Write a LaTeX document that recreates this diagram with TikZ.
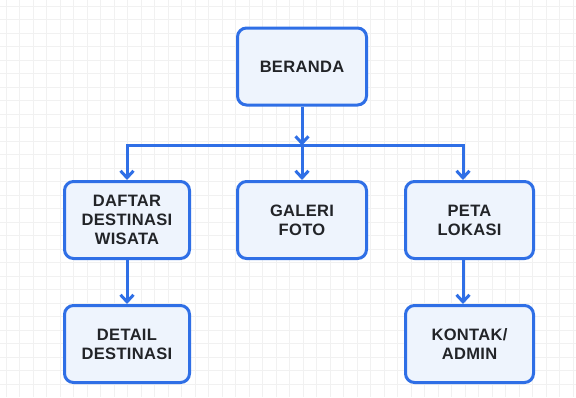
\documentclass[tikz,border=0pt]{standalone}
\usepackage{fontspec}
\setmainfont{Liberation Sans}[LetterSpace=2]
\usetikzlibrary{arrows.meta}
\definecolor{boxblue}{HTML}{2F6FE6}
\definecolor{boxfill}{HTML}{EEF4FD}
\definecolor{gridgray}{HTML}{F1F1F1}
\definecolor{textdark}{HTML}{222428}
\begin{document}
\begin{tikzpicture}[x=1pt,y=-1pt,>={Straight Barb[length=7pt,width=13pt]},line join=miter,
    page/.style={draw=boxblue,line width=3pt,fill=boxfill,rounded corners=9pt,
        minimum width=129pt,minimum height=77pt,align=center,text=textdark,
        font=\bfseries\fontsize{16.5}{19}\selectfont},
    link/.style={draw=boxblue,line width=3pt}]
    \useasboundingbox (0,0) rectangle (576,397);
    \fill[white] (0,0) rectangle (576,397);
    % background grid
    \foreach \gx in {6,19.5,...,576} \draw[gridgray,line width=0.6pt] (\gx,0)--(\gx,397);
    \foreach \gy in {6,19.5,...,397} \draw[gridgray,line width=0.6pt] (0,\gy)--(576,\gy);
    % pages
    \node[page] (beranda) at (302,66.5) {BERANDA};
    \node[page,minimum width=125pt] (daftar) at (127,220) {DAFTAR\\DESTINASI\\WISATA};
    \node[page] (galeri) at (302,220) {GALERI\\FOTO};
    \node[page,minimum width=128pt] (peta) at (469.5,220) {PETA\\LOKASI};
    \node[page,minimum width=125pt] (detail) at (127,344) {DETAIL\\DESTINASI};
    \node[page,minimum width=128pt] (kontak) at (469.5,344) {KONTAK/\\ADMIN};
    % links
    \coordinate (bus) at (302,145.5);
    \draw[link,->] (beranda) -- (bus);
    \draw[link,->] (bus) -| (daftar);
    \draw[link,->] (bus) -- (galeri);
    \draw[link,->] (bus) -| ([xshift=-6.5pt]peta.north);
    \draw[link,->] (daftar) -- (detail);
    \draw[link,->] ([xshift=-6.5pt]peta.south) -- ([xshift=-6.5pt]kontak.north);
\end{tikzpicture}
\end{document}
